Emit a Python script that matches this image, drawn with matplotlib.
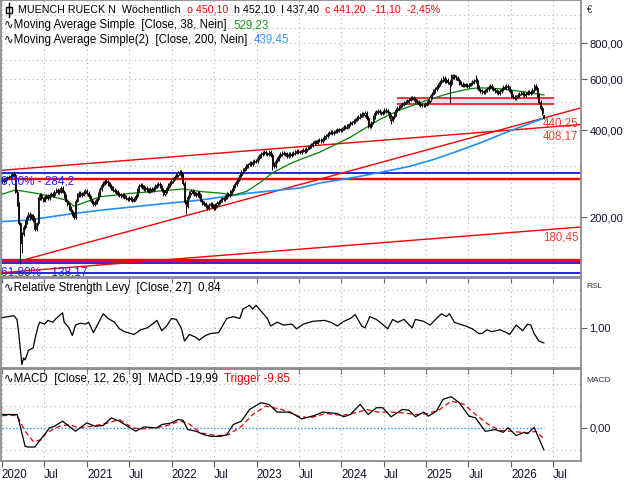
import numpy as np
import pandas as pd
import matplotlib
matplotlib.use("Agg")
import matplotlib.pyplot as plt
import matplotlib.dates as mdates
from matplotlib.lines import Line2D
from matplotlib.patches import Rectangle

plt.rcParams['font.family'] = ['Liberation Sans', 'DejaVu Sans']

# weekly closes, first week ending 2020-01-03
closes = [
    # 2020
    268, 266, 272, 274, 276, 278, 282, 280,
    245, 222, 190, 162, 175, 185, 192, 200, 205, 198, 202, 195, 182, 190,
    232, 238, 232, 228, 234, 236, 232, 238,
    240, 238, 245, 248, 244, 246, 252,
    245, 236, 228, 222, 215, 210, 205, 200,
    228, 238, 242, 238, 240, 244, 246,
    # 2021
    242, 236, 230, 226, 222, 225, 230, 240,
    250, 258, 262, 266, 264, 260, 256, 252, 248,
    246, 244, 240, 238, 236, 238, 234, 232, 230, 233, 231, 228, 232, 236,
    248, 256, 258, 254, 250, 252,
    248, 245, 250, 248, 252, 256, 258, 260, 255, 248,
    240, 245, 252, 258, 262,
    # 2022
    266, 272, 276, 280, 284, 286, 280, 262,
    225, 218, 235, 242, 246,
    244, 240, 238, 242, 236,
    228, 224, 222, 218, 215, 220, 222, 218, 215, 220, 224, 226,
    228, 232, 230, 235, 240, 238, 244, 248, 255,
    260, 266, 272, 280, 286, 292, 296, 300,
    304, 308, 306, 310, 312,
    # 2023
    312, 320, 326, 330, 333,
    335, 332, 330, 336,
    328, 305, 300, 312,
    318, 325, 330, 334,
    332, 330, 326, 330, 328,
    330, 334, 336, 338, 335,
    336, 340, 342, 338, 345, 348,
    352, 356, 360, 365, 362, 368,
    370, 366, 372, 378, 382, 388, 392, 395,
    390, 395, 398, 400, 402,
    # 2024
    400, 405, 410, 408, 412, 418, 422, 425,
    430, 435, 440, 445, 450, 455, 452, 458,
    440, 418, 412, 425,
    445, 458, 462, 465, 460, 458, 462, 468, 465, 460,
    448, 432, 442, 455,
    470, 478, 482, 488, 492, 498, 502, 505, 510, 515, 518, 512, 505, 500,
    492, 488, 490, 488, 492,
    # 2025
    495, 505, 520, 535,
    545, 555, 565, 575,
    585, 595, 605, 590,
    595, 585, 575, 610, 618, 612, 605, 598,
    582, 578, 570, 575, 572, 568, 575, 580, 585, 590, 598, 565, 552, 545, 542, 540,
    548, 555, 565, 570, 560, 552, 545, 540, 538, 545, 555, 562, 565, 568, 560, 545,
    # 2026
    525, 520, 515, 522, 528, 535, 538, 532, 528, 535, 540, 536, 542, 550, 568,
    560, 528, 500, 478, 458, 441.2,
]
last_open = 450.10

# wick extremes (week index -> price)
high_weeks = [7, 276, 291, 328, 333]
high_vals = [288, 625, 622, 575, 452.1]
low_weeks = [11, 12, 113, 166, 225, 239, 275, 333]
low_vals = [138, 150, 205, 292, 405, 420, 495, 437.4]

sma38_weeks = [0, 8, 20, 30, 40, 44, 50, 60, 81, 93, 111, 122, 134, 142, 150, 158,
               166, 177, 183, 195, 213, 232, 244, 262, 275, 287, 293, 305, 317, 333]
sma38_vals = [240, 248, 242, 236, 228, 218, 224, 235, 242, 245, 250, 245, 242, 238, 245, 262,
              284, 306, 316, 335, 375, 435, 468, 509, 536, 555, 560, 556, 546, 529.23]

sma200_weeks = [0, 15, 42, 60, 91, 122, 152, 183, 195, 213, 232, 250, 265, 280, 295, 311, 333]
sma200_vals = [193, 195, 205, 211, 220, 229, 242, 252, 262, 272, 285, 299, 316, 338, 363, 395,
               439.45]

rsl_weeks = [0, 4, 7, 9, 10, 12, 13, 14, 16, 19, 20, 22, 23, 26, 28, 31, 33, 37, 38, 41,
             43, 45, 48, 51, 53, 56, 59, 62, 65, 69, 72, 75, 79, 81, 85, 89, 93, 95, 98, 101,
             104, 107, 110, 112, 115, 119, 121, 125, 128, 133, 136, 138, 142, 146, 148, 152,
             154, 156, 159, 163, 165, 169, 173, 178, 181, 185, 191, 198, 202, 206, 210, 214,
             217, 221, 223, 226, 230, 233, 237, 240, 243, 247, 252, 254, 259, 263, 267, 270,
             273, 275, 278, 281, 285, 289, 293, 295, 298, 301, 306, 310, 312, 316, 320, 323,
             325, 327, 330, 333]
rsl_vals = [1.11, 1.12, 1.13, 1.09, 0.95, 0.61, 0.68, 0.66, 0.76, 0.79, 0.88, 1.02, 1.06, 1.04,
            1.08, 1.06, 1.10, 1.16, 1.06, 1.00, 0.92, 1.03, 1.05, 1.04, 1.06, 0.95, 1.05, 1.15,
            1.10, 1.06, 0.99, 0.96, 0.94, 0.93, 0.98, 1.00, 1.05, 1.08, 0.97, 1.02, 1.10, 1.09,
            1.00, 0.86, 0.93, 0.90, 0.87, 0.92, 0.94, 0.95, 1.04, 1.10, 1.12, 1.10, 1.20, 1.24,
            1.20, 1.24, 1.18, 1.10, 1.02, 1.06, 1.03, 1.04, 0.99, 1.04, 1.07, 1.08, 1.06, 1.02,
            1.07, 1.10, 1.14, 1.02, 1.00, 1.12, 1.09, 1.05, 0.99, 1.09, 1.06, 1.09, 1.00, 1.09,
            1.07, 1.03, 1.10, 1.15, 1.12, 1.15, 1.06, 1.04, 1.02, 0.99, 0.94, 0.94, 0.98, 0.96,
            0.98, 0.95, 0.93, 1.03, 0.97, 1.04, 1.03, 0.94, 0.86, 0.84]

macd_weeks = [0, 9, 10, 14, 16, 20, 21, 25, 29, 32, 37, 41, 45, 49, 52, 57, 62, 67, 72, 77,
              82, 87, 95, 98, 104, 108, 111, 114, 119, 124, 128, 134, 138, 142, 147, 152, 159,
              164, 169, 177, 184, 192, 197, 206, 210, 214, 220, 225, 230, 234, 239, 246, 250,
              254, 259, 262, 267, 271, 276, 281, 287, 291, 297, 303, 308, 311, 316, 321, 323,
              327, 333]
macd_vals = [12.3, 12.3, 7.7, -17.0, -17.5, -17.5, -15.4, -7.7, 0.0, 1.5, 6.2, 1.5, -3.0, 1.5,
             4.6, 1.5, 2.2, 9.2, 6.2, 1.5, -3.0, 0.9, 0.0, 3.1, 4.6, 7.7, 7.1, -1.5, -3.0, -6.2,
             -7.7, -7.7, -6.2, 3.1, 6.2, 16.9, 23.1, 21.5, 14.5, 14.5, 8.3, 11.4, 14.5, 13.2,
             10.2, 12.3, 21.5, 12.3, 18.5, 18.5, 10.2, 16.9, 16.3, 10.2, 14.5, 10.8, 15.4, 26.2,
             28.6, 23.1, 10.8, 9.2, -3.1, -1.5, -4.0, 0.0, -7.0, -4.0, -5.2, 0.5, -19.99]

trig_weeks = [0, 9, 14, 19, 24, 27, 35, 41, 47, 55, 65, 72, 80, 87, 100, 109, 114, 122, 132,
              139, 147, 154, 162, 172, 182, 189, 199, 209, 219, 224, 231, 239, 246, 254, 261,
              269, 276, 284, 291, 299, 306, 313, 323, 328, 333]
trig_vals = [11.4, 11.4, -3.0, -12.3, -10.8, -4.6, 1.5, 3.1, 0.0, 1.5, 4.6, 7.7, 0.0, -0.9,
             1.5, 6.2, 4.6, -4.6, -7.1, -6.2, 1.5, 12.3, 20.0, 16.9, 10.8, 9.2, 13.2, 11.4,
             14.5, 16.9, 14.5, 14.5, 13.8, 12.3, 12.9, 16.9, 24.6, 21.5, 12.3, 3.1, -2.2, -3.1,
             -4.6, -3.1, -9.85]

# drawn levels
fib_levels = [284.2, 138.17]
fib_labels = ["0,00% - 284,2", "61,80% - 138,17"]
red_levels = [273.7, 270.0, 142.0]
blue_extra = [128.0]
zone_low, zone_high = 492, 516
zone_weeks = [243, 339]
trend_a = [(-1, 290.0), (333, 408.17)]
trend_b = [(15, 143.0), (333, 440.25)]
trend_c = [(-1, 290.0 * 180.45 / 408.17), (333, 180.45)]
trend_labels = ["408,17", "440,25", "180,45"]
trend_label_dy = [-2.5, 0.5, -1.5]

year_ticks = ['2020-01-01', '2020-07-01', '2021-01-01', '2021-07-01', '2022-01-01', '2022-07-01',
              '2023-01-01', '2023-07-01', '2024-01-01', '2024-07-01', '2025-01-01', '2025-07-01',
              '2026-01-01', '2026-07-01']
year_tick_labels = ['2020', 'Jul', '2021', 'Jul', '2022', 'Jul', '2023', 'Jul', '2024', 'Jul',
                    '2025', 'Jul', '2026', 'Jul']

# ---- build candles
n = len(closes)
dates = pd.date_range('2020-01-03', periods=n, freq='7D')
x = mdates.date2num(dates)
closes = np.array(closes, dtype=float)
opens = np.r_[266.0, closes[:-1]]
opens[-1] = last_open
highs = np.maximum(opens, closes) * 1.015
lows = np.minimum(opens, closes) * 0.985
for w, v in zip(high_weeks, high_vals):
    highs[w] = v
for w, v in zip(low_weeks, low_vals):
    lows[w] = v


def wx(weeks):
    return x[0] + 7 * np.asarray(weeks, dtype=float)


x_left = mdates.date2num(pd.Timestamp('2019-12-28'))
x_right = x_left + 2497

fig = plt.figure(figsize=(6.4, 4.8), dpi=100)
W, H = 640.0, 480.0


def axes_px(top, bottom):
    return fig.add_axes([1 / W, 1 - bottom / H, 580 / W, (bottom - top) / H])


ax1 = axes_px(0, 277)
ax2 = axes_px(278, 368)
ax3 = axes_px(369, 461)

grid_kw = dict(color='#b4b4b4', lw=0.8, linestyle=(0, (1, 3)), zorder=0)
tick_x = mdates.date2num(pd.to_datetime(year_ticks))

for ax in (ax1, ax2, ax3):
    ax.patch.set_visible(False)
    ax.set_xlim(x_left, x_right)
    for s in ax.spines.values():
        s.set_color('#8c8c8c')
        s.set_linewidth(1.3)
    ax.yaxis.tick_right()
    ax.tick_params(axis='y', length=4, width=0.8, color='#606060', labelsize=8, pad=2,
                   labelcolor='#101030')
    ax.tick_params(axis='x', length=4, width=0.8, color='#606060')
    for tx in tick_x:
        ax.axvline(tx, **grid_kw)
    ax.set_xticks(tick_x)
    ax.set_xticklabels([])

# ---- price panel
ax1.set_yscale('log')
ax1.set_ylim(124, 1127)
ax1.set_yticks([200, 400, 600, 800])
ax1.set_yticklabels(['200,00', '400,00', '600,00', '800,00'])
ax1.yaxis.set_minor_locator(matplotlib.ticker.NullLocator())
for g in [200, 300, 400, 500, 600, 700, 800, 900, 1000]:
    ax1.axhline(g, **grid_kw)

# support zone
ax1.fill_between(wx(zone_weeks), zone_low, zone_high, color='#e2e2f4', zorder=1)
ax1.hlines([zone_low, zone_high], wx(zone_weeks)[0], wx(zone_weeks)[1], color='#ff0000', lw=1.1, zorder=2)

# horizontal levels
ax1.axhline(fib_levels[0], color='#0000ee', lw=1.2, zorder=2)
ax1.axhline(fib_levels[1], color='#0000ee', lw=1.2, zorder=2)
for lv in blue_extra:
    ax1.axhline(lv, color='#0000ee', lw=1.2, zorder=2)
ax1.axhline(red_levels[0], color='#ff0000', lw=1.0, zorder=2)
ax1.axhline(red_levels[1], color='#ff0000', lw=1.0, zorder=2)
ax1.axhline(red_levels[2], color='#ff0000', lw=2.4, zorder=2)


def trend(points):
    (w0, p0), (w1, p1) = points
    w_end = (x_right - x[0]) / 7
    k = (np.log(p1) - np.log(p0)) / (w1 - w0)
    ws = np.array([w0, w_end])
    return wx(ws), np.exp(np.log(p0) + k * (ws - w0)), p1


for pts, lab, dy in zip([trend_a, trend_b, trend_c], trend_labels, trend_label_dy):
    tx_, ty_, pv = trend(pts)
    ax1.plot(tx_, ty_, color='#ff0000', lw=1.0, zorder=2)
    ax1.annotate(lab, xy=(x_right, pv), xytext=(-2, dy), textcoords='offset points',
                 ha='right', va='top', color='#ff3c3c', fontsize=8.3, zorder=6)

for lv, lab in zip(fib_levels, fib_labels):
    ax1.annotate(lab, xy=(x_left, lv), xytext=(0, -2), textcoords='offset points',
                 ha='left', va='top', color='#2020ff', fontsize=8.5, zorder=6)

# moving averages
ax1.plot(wx(sma200_weeks), sma200_vals, color='#1e90ff', lw=1.2, zorder=3)
ax1.plot(wx(sma38_weeks), sma38_vals, color='#008000', lw=0.9, zorder=3)

# candles
up = closes >= opens
ax1.vlines(x, lows, highs, color='black', lw=0.7, zorder=4)
body_lo = np.minimum(opens, closes)
body_hi = np.maximum(opens, closes)
body_h = np.maximum(body_hi - body_lo, body_hi * 0.003)
ax1.bar(x[up], body_h[up], bottom=body_lo[up], width=4.5, color='white', edgecolor='black',
        linewidth=0.6, zorder=5)
ax1.bar(x[~up], body_h[~up], bottom=body_lo[~up], width=4.5, color='#ff0000', edgecolor='black',
        linewidth=0.6, zorder=5)

# ---- RSL panel
ax2.set_ylim(0.574, 1.53)
ax2.set_yticks([1.0])
ax2.set_yticklabels(['1,00'])
for g in [0.8, 1.0, 1.2, 1.4]:
    ax2.axhline(g, **grid_kw)
ax2.plot(wx(rsl_weeks), rsl_vals, color='black', lw=0.9, zorder=3)

# ---- MACD panel
ax3.set_ylim(-30.3, 54)
ax3.set_yticks([0])
ax3.set_yticklabels(['0,00'])
for g in [-20, 20, 40]:
    ax3.axhline(g, **grid_kw)
ax3.hlines(0, x[0], x[-1], color='#1e90ff', lw=1.0, linestyle=(0, (1, 1.5)), zorder=2)
ax3.plot(wx(trig_weeks), trig_vals, color='#e00000', lw=0.9, linestyle=(0, (4, 2.5)), zorder=3)
ax3.plot(wx(macd_weeks), macd_vals, color='black', lw=0.9, zorder=4)
ax3.set_xticklabels(year_tick_labels, fontsize=8.3, color='#101030')
for lbl in ax3.get_xticklabels():
    lbl.set_horizontalalignment('left')
ax3.tick_params(axis='x', pad=2)

# ---- header texts


def header(x_px, y_px, pieces, size=8.3):
    t = fig.text(x_px / W, 1 - y_px / H, pieces[0][0], color=pieces[0][1], fontsize=size,
                 ha='left', va='center', zorder=10)
    for s, c in pieces[1:]:
        t = ax1.annotate(s, xy=(1, 0), xycoords=t, ha='left', va='bottom', color=c,
                         fontsize=size, annotation_clip=False, clip_on=False, zorder=10)


header(18, 10, [("MUENCH RUECK N  Wöchentlich  ", 'black'), ("o 450,10  ", '#ff0000'),
                ("h 452,10  l 437,40  ", 'black'), ("c 441,20  -11,10  -2,45%", '#ff0000')],
       size=7.7)
header(4, 25, [("∿Moving Average Simple  [Close, 38, Nein]  ", 'black'), ("529,23", '#1a9a1a')])
header(4, 40, [("∿Moving Average Simple(2)  [Close, 200, Nein]  ", 'black'), ("439,45", '#3399ff')])
header(4, 288, [("∿Relative Strength Levy  [Close, 27]  0,84", 'black')])
header(4, 379, [("∿MACD  [Close, 12, 26, 9]  MACD -19,99  ", 'black'), ("Trigger -9,85", '#e00000')])

# candle icon for the instrument line
fig.add_artist(Line2D([9 / W, 9 / W], [1 - 3 / H, 1 - 17 / H], color='black', lw=1))
fig.add_artist(Rectangle((6 / W, 1 - 13 / H), 6 / W, 6 / H, facecolor='white',
                         edgecolor='black', lw=1))

fig.text(587 / W, 1 - 10 / H, "€", fontsize=7, color='#303050', va='center')
fig.text(586 / W, 1 - 287 / H, "RSL", fontsize=6, color='#303050', va='center')
fig.text(586 / W, 1 - 380 / H, "MACD", fontsize=6, color='#303050', va='center')

fig.savefig('out.png', dpi=100)
